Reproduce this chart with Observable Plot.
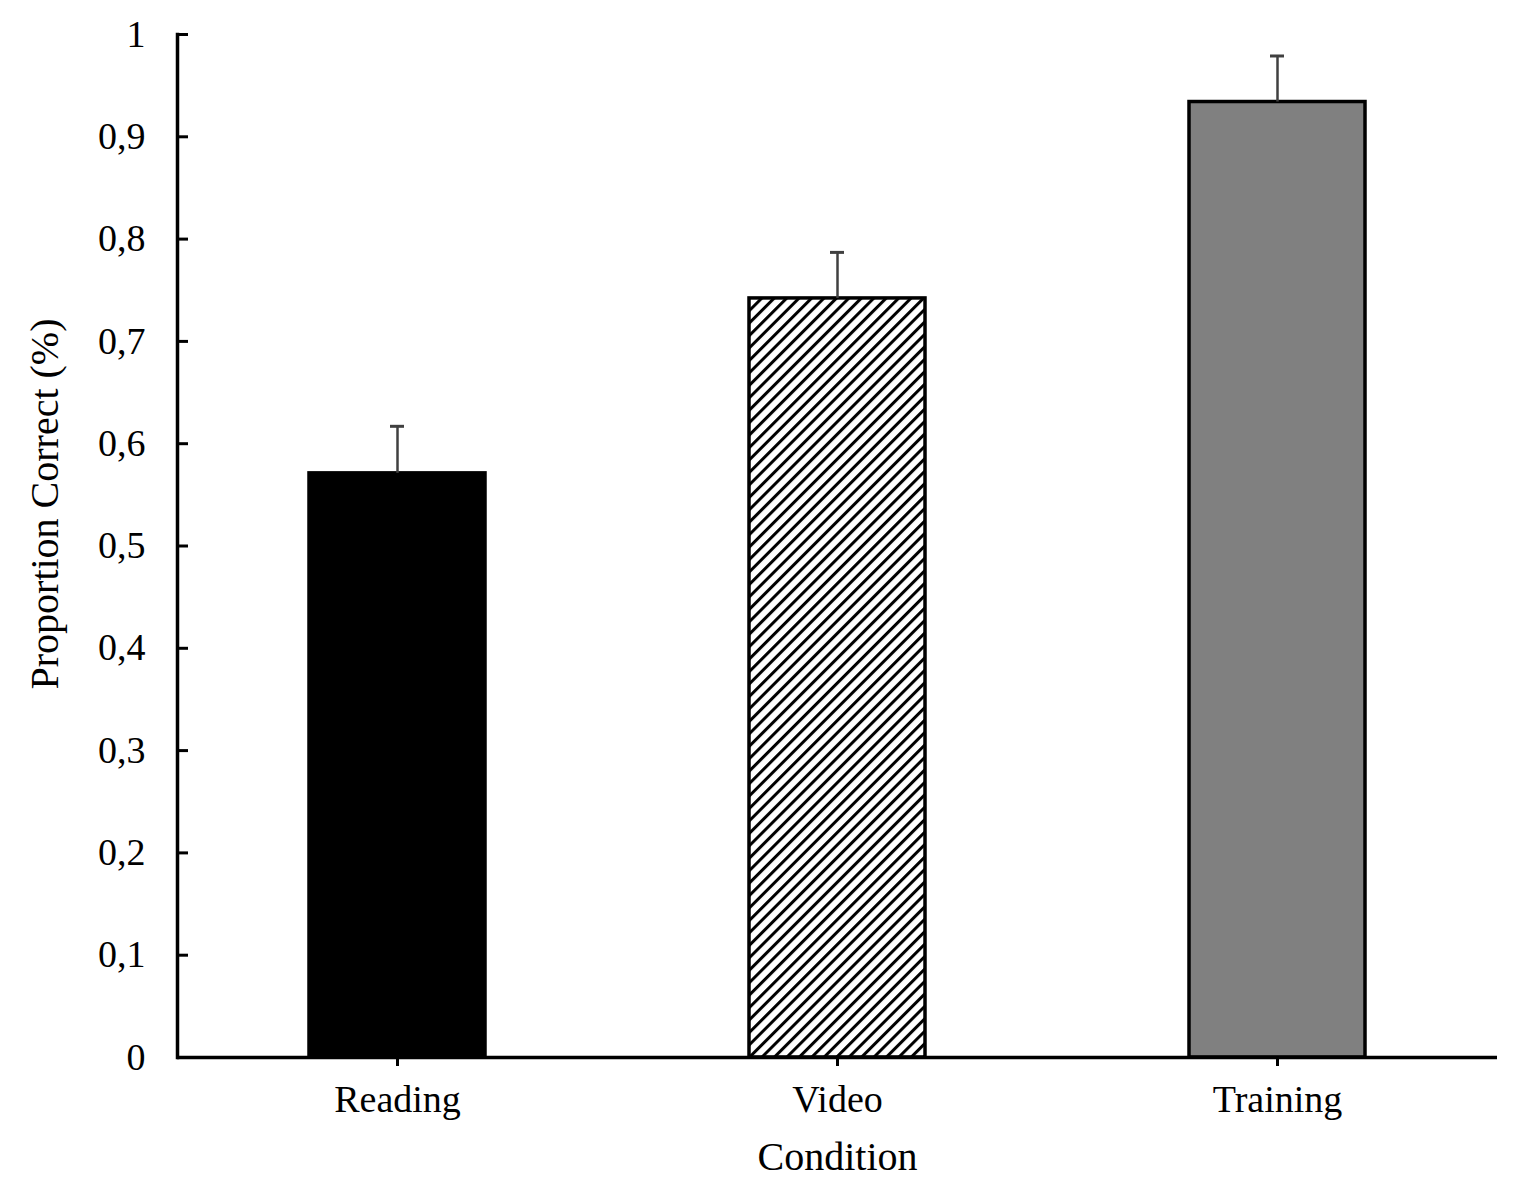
<!DOCTYPE html>
<html>
<head>
<meta charset="utf-8">
<script src="https://cdn.jsdelivr.net/npm/d3@7"></script>
<script src="https://cdn.jsdelivr.net/npm/@observablehq/plot@0.6"></script>
<style>
  html, body { margin: 0; padding: 0; background: #fff; }
  #chart svg { display: block; }
</style>
</head>
<body>
<div id="chart"></div>
<script>
const categories = ["Reading", "Video", "Training"];
const means = [0.571, 0.742, 0.934];
const errors = [0.046, 0.045, 0.045];
const fills = ["#000000", "url(#hatch)", "#808080"];
const yTicks = [0, 0.1, 0.2, 0.3, 0.4, 0.5, 0.6, 0.7, 0.8, 0.9, 1];
const yTickLabels = ["0", "0,1", "0,2", "0,3", "0,4", "0,5", "0,6", "0,7", "0,8", "0,9", "1"];
const xTitle = "Condition";
const yTitle = "Proportion Correct (%)";

const data = categories.map((c, i) => ({cat: c, mean: means[i], err: errors[i], top: means[i] + errors[i], fill: fills[i]}));
const tickData = yTicks.map((v, i) => ({v, label: yTickLabels[i]}));

const W = 1535, H = 1189;
const mL = 177, mR = 38, mT = 34, mB = 132;

const svg = Plot.plot({
  width: W,
  height: H,
  marginLeft: mL,
  marginRight: mR,
  marginTop: mT,
  marginBottom: mB,
  style: {fontFamily: "'Liberation Serif', 'Times New Roman', serif", fontSize: "38px", color: "#000", background: "#fff"},
  x: {domain: categories, paddingInner: 0.6, paddingOuter: 0.3, label: null},
  y: {domain: [0, 1], label: null, axis: null},
  marks: [
    Plot.barY(data, {x: "cat", y: "mean", fill: "fill", stroke: "#000", strokeWidth: 3.5}),
    Plot.ruleX(data, {x: "cat", y1: "mean", y2: "top", stroke: "#404040", strokeWidth: 2.5}),
    Plot.tickY(data, {x: "cat", y: "top", stroke: "#404040", strokeWidth: 3, insetLeft: 81, insetRight: 81}),
    // y axis line
    Plot.frame({anchor: "left", stroke: "#000", strokeWidth: 3.5}),
    // inward y ticks
    Plot.tickY(tickData, {y: "v", stroke: "#000", strokeWidth: 3, insetRight: (W - mL - mR) - 11}),
    // y tick labels
    Plot.text(tickData, {y: "v", text: "label", frameAnchor: "left", textAnchor: "end", dx: -32, fontSize: 38, fill: "#000"}),
    // x axis line
    Plot.ruleY([0], {stroke: "#000", strokeWidth: 3.5}),
    Plot.axisX({tickSize: 9, tickPadding: 19, strokeWidth: 3, stroke: "#000", fontSize: 38, fill: "#000", label: null}),
    Plot.text([xTitle], {frameAnchor: "bottom", textAnchor: "middle", dy: 112, fontSize: 40, fill: "#000"}),
    Plot.text([yTitle], {frameAnchor: "left", textAnchor: "middle", lineAnchor: "middle", dx: -132, dy: -42, rotate: -90, fontSize: 40, fill: "#000"})
  ]
});

// hatch pattern definition
const ns = "http://www.w3.org/2000/svg";
const defs = document.createElementNS(ns, "defs");
const pat = document.createElementNS(ns, "pattern");
pat.setAttribute("id", "hatch");
pat.setAttribute("patternUnits", "userSpaceOnUse");
pat.setAttribute("width", "8.8");
pat.setAttribute("height", "8.8");
pat.setAttribute("patternTransform", "rotate(45)");
const bg = document.createElementNS(ns, "rect");
bg.setAttribute("width", "8.8");
bg.setAttribute("height", "8.8");
bg.setAttribute("fill", "#fff");
const ln = document.createElementNS(ns, "line");
ln.setAttribute("x1", "1.5"); ln.setAttribute("y1", "0");
ln.setAttribute("x2", "1.5"); ln.setAttribute("y2", "8.8");
ln.setAttribute("stroke", "#000");
ln.setAttribute("stroke-width", "3");
pat.appendChild(bg);
pat.appendChild(ln);
defs.appendChild(pat);
svg.insertBefore(defs, svg.firstChild);

document.getElementById("chart").appendChild(svg);
</script>
</body>
</html>
